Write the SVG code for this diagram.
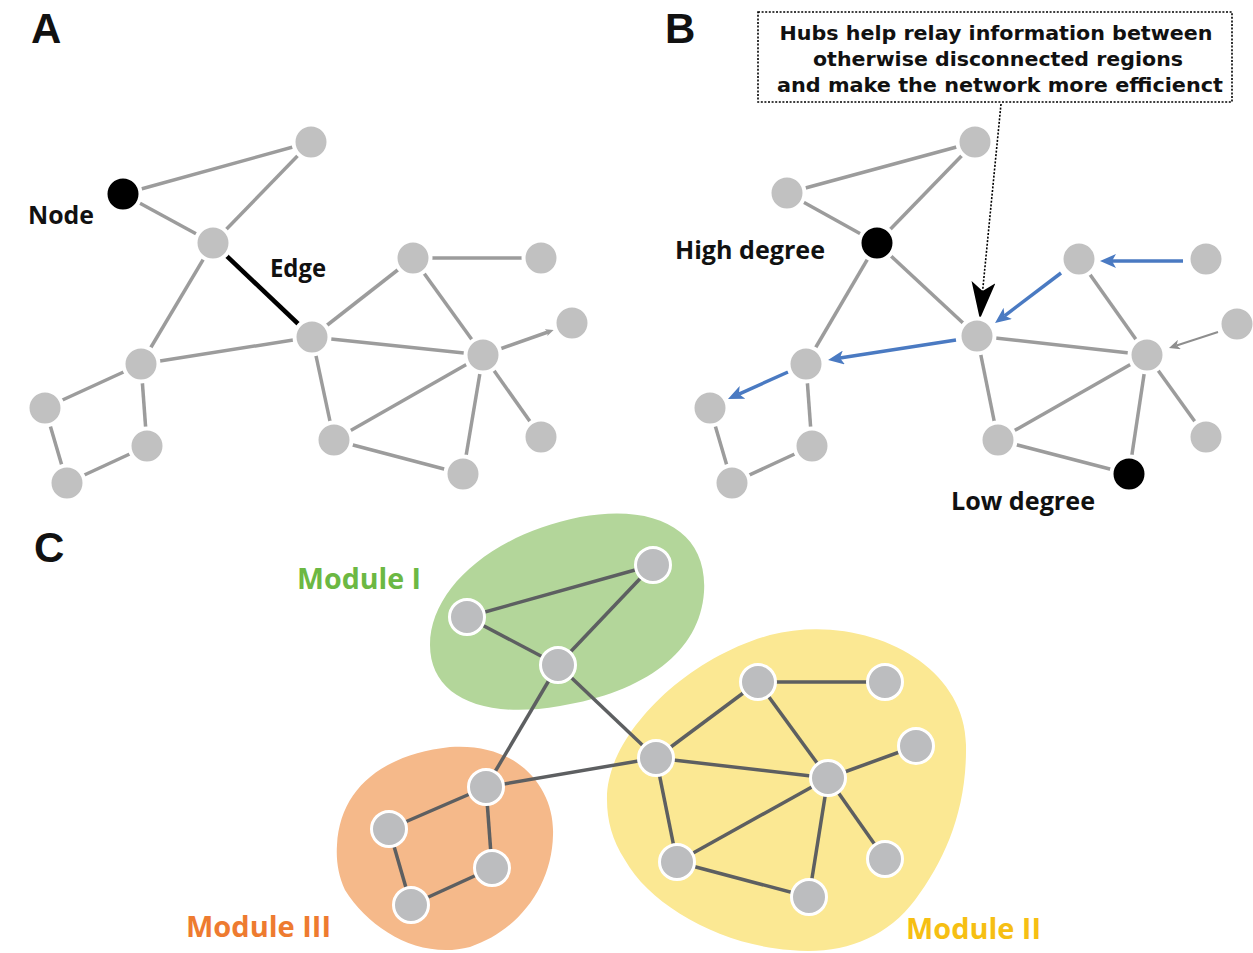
<svg xmlns="http://www.w3.org/2000/svg" width="1253" height="953" viewBox="0 0 1253 953">
<style>
.ab{fill:#c1c1c1;stroke:#fff;stroke-width:4}
.bk{fill:#000;stroke:#fff;stroke-width:4}
.cn{fill:#bcbdbf;stroke:#fff;stroke-width:3}
.e{stroke:#9c9c9c;stroke-width:3.5;fill:none}
.ec{stroke:#5d5f61;stroke-width:3.5;fill:none}
.bl{stroke:#4a7ac2;stroke-width:3.5;fill:none}
.lbl{font-family:"Open Sans","Liberation Sans",sans-serif;font-weight:700;fill:#111}
.pl{font-family:"Liberation Sans","Open Sans",sans-serif;font-weight:700;fill:#111;font-size:42px}
.hub{font-family:"DejaVu Sans","Liberation Sans",sans-serif;font-weight:700;fill:#111;font-size:19px;text-anchor:middle}
</style>
<defs>
<marker id="mb" markerUnits="userSpaceOnUse" markerWidth="16" markerHeight="14" refX="4" refY="7" orient="auto"><path d="M0,0 L16,7 L0,14 L4,7 Z" fill="#4a7ac2"/></marker>
<marker id="mg" markerUnits="userSpaceOnUse" markerWidth="11" markerHeight="10" refX="3" refY="5" orient="auto"><path d="M0,0 L11,5 L0,10 L3,5 Z" fill="#8e8e8e"/></marker>
<marker id="mga" markerUnits="userSpaceOnUse" markerWidth="8" markerHeight="7" refX="2" refY="3.5" orient="auto"><path d="M0,0 L8,3.5 L0,7 L2,3.5 Z" fill="#9c9c9c"/></marker>
<marker id="mk" markerUnits="userSpaceOnUse" markerWidth="37" markerHeight="24" refX="9" refY="12" orient="auto"><path d="M0,0 L37,12 L0,24 L9,12 Z" fill="#000"/></marker>
</defs>

<!-- Panel labels -->
<text class="pl" x="31" y="43">A</text>
<text class="pl" x="665" y="43">B</text>
<text class="pl" x="34" y="562">C</text>

<!-- Panel C blobs -->
<g id="module1-area"><path d="M430,645 C430,590 490,535 580,517 C655,503 708,530 704,592 C700,652 645,692 560,706 C480,720 430,695 430,645 Z" fill="#b3d69a"/></g>
<g id="module2-area"><path d="M607,800 C605,740 680,660 770,635 C860,612 965,660 966,745 C967,810 945,860 915,900 C885,940 840,955 790,950 C720,945 650,905 625,860 C612,840 607,820 607,800 Z" fill="#fbe893"/></g>
<g id="module3-area"><path d="M337,845 C340,790 380,755 450,747 C520,742 555,790 553,835 C552,885 520,930 470,947 C420,960 370,930 345,890 C338,875 336,860 337,845 Z" fill="#f5b98a"/></g>

<!-- Connectors -->
<g id="connectors">
  <!-- Panel A -->
  <line class="e" x1="123" y1="194" x2="311" y2="142"/>
  <line class="e" x1="123" y1="194" x2="213" y2="243"/>
  <line class="e" x1="213" y1="243" x2="311" y2="142"/>
  <line stroke="#000" stroke-width="4.5" x1="213" y1="243" x2="312" y2="337"/>
  <line class="e" x1="213" y1="243" x2="141" y2="364"/>
  <line class="e" x1="141" y1="364" x2="312" y2="337"/>
  <line class="e" x1="141" y1="364" x2="45" y2="408"/>
  <line class="e" x1="141" y1="364" x2="147" y2="446"/>
  <line class="e" x1="45" y1="408" x2="67" y2="483"/>
  <line class="e" x1="67" y1="483" x2="147" y2="446"/>
  <line class="e" x1="312" y1="337" x2="413" y2="258"/>
  <line class="e" x1="312" y1="337" x2="483" y2="355"/>
  <line class="e" x1="312" y1="337" x2="334" y2="440"/>
  <line class="e" x1="413" y1="258" x2="541" y2="258"/>
  <line class="e" x1="413" y1="258" x2="483" y2="355"/>
  <line class="e" x1="483" y1="355" x2="548" y2="332" marker-end="url(#mga)"/>
  <line class="e" x1="483" y1="355" x2="334" y2="440"/>
  <line class="e" x1="483" y1="355" x2="463" y2="474"/>
  <line class="e" x1="483" y1="355" x2="541" y2="437"/>
  <line class="e" x1="334" y1="440" x2="463" y2="474"/>
  <!-- Panel B -->
  <line class="e" x1="787" y1="193" x2="975" y2="142"/>
  <line class="e" x1="787" y1="193" x2="877" y2="243"/>
  <line class="e" x1="877" y1="243" x2="975" y2="142"/>
  <line class="e" x1="877" y1="243" x2="977" y2="336"/>
  <line class="e" x1="877" y1="243" x2="806" y2="364"/>
  <line class="e" x1="806" y1="364" x2="812" y2="446"/>
  <line class="e" x1="710" y1="408" x2="732" y2="483"/>
  <line class="e" x1="732" y1="483" x2="812" y2="446"/>
  <line class="e" x1="977" y1="336" x2="1147" y2="355"/>
  <line class="e" x1="977" y1="336" x2="998" y2="440"/>
  <line class="e" x1="1079" y1="259" x2="1147" y2="355"/>
  <line class="e" x1="1147" y1="355" x2="998" y2="440"/>
  <line class="e" x1="1147" y1="355" x2="1129" y2="474"/>
  <line class="e" x1="1147" y1="355" x2="1206" y2="437"/>
  <line class="e" x1="998" y1="440" x2="1129" y2="474"/>
  <line class="bl" x1="1183" y1="261" x2="1112" y2="261" marker-end="url(#mb)"/>
  <line class="bl" x1="1061" y1="273" x2="1004.6" y2="315.8" marker-end="url(#mb)"/>
  <line class="bl" x1="956" y1="340" x2="839.9" y2="358.1" marker-end="url(#mb)"/>
  <line class="bl" x1="788" y1="372" x2="738.9" y2="394.1" marker-end="url(#mb)"/>
  <line stroke="#8e8e8e" stroke-width="2" x1="1218" y1="332" x2="1176.6" y2="345.5" marker-end="url(#mg)"/>
  <line stroke="#000" stroke-width="1.6" stroke-dasharray="2,1.6" x1="1001" y1="104" x2="982.6" y2="291.1" marker-end="url(#mk)"/>
  <!-- Panel C -->
  <line class="ec" x1="467" y1="617" x2="653" y2="565"/>
  <line class="ec" x1="467" y1="617" x2="558" y2="665"/>
  <line class="ec" x1="558" y1="665" x2="653" y2="565"/>
  <line class="ec" x1="558" y1="665" x2="486" y2="787"/>
  <line class="ec" x1="558" y1="665" x2="656" y2="758"/>
  <line class="ec" x1="486" y1="787" x2="656" y2="758"/>
  <line class="ec" x1="486" y1="787" x2="389" y2="829"/>
  <line class="ec" x1="486" y1="787" x2="492" y2="868"/>
  <line class="ec" x1="389" y1="829" x2="411" y2="905"/>
  <line class="ec" x1="411" y1="905" x2="492" y2="868"/>
  <line class="ec" x1="656" y1="758" x2="758" y2="682"/>
  <line class="ec" x1="758" y1="682" x2="885" y2="682"/>
  <line class="ec" x1="758" y1="682" x2="828" y2="778"/>
  <line class="ec" x1="656" y1="758" x2="828" y2="778"/>
  <line class="ec" x1="656" y1="758" x2="677" y2="862"/>
  <line class="ec" x1="828" y1="778" x2="916" y2="746"/>
  <line class="ec" x1="828" y1="778" x2="677" y2="862"/>
  <line class="ec" x1="828" y1="778" x2="809" y2="897"/>
  <line class="ec" x1="828" y1="778" x2="885" y2="859"/>
  <line class="ec" x1="677" y1="862" x2="809" y2="897"/>
</g>

<!-- Panel A nodes -->
<g id="a-n1"><circle class="ab" cx="311" cy="142" r="17.5"/></g>
<g id="a-node"><circle class="bk" cx="123" cy="194" r="17.5"/><text class="lbl" x="28" y="224" font-size="25" textLength="66" lengthAdjust="spacingAndGlyphs">Node</text></g>
<g id="a-n3"><circle class="ab" cx="213" cy="243" r="17.5"/></g>
<g id="a-edge-label"><text class="lbl" x="270" y="277" font-size="25" textLength="56" lengthAdjust="spacingAndGlyphs">Edge</text></g>
<g id="a-n4"><circle class="ab" cx="312" cy="337" r="17.5"/></g>
<g id="a-n5"><circle class="ab" cx="413" cy="258" r="17.5"/></g>
<g id="a-n6"><circle class="ab" cx="541" cy="258" r="17.5"/></g>
<g id="a-n7"><circle class="ab" cx="572" cy="323" r="17.5"/></g>
<g id="a-n8"><circle class="ab" cx="483" cy="355" r="17.5"/></g>
<g id="a-n9"><circle class="ab" cx="141" cy="364" r="17.5"/></g>
<g id="a-n10"><circle class="ab" cx="45" cy="408" r="17.5"/></g>
<g id="a-n11"><circle class="ab" cx="147" cy="446" r="17.5"/></g>
<g id="a-n12"><circle class="ab" cx="67" cy="483" r="17.5"/></g>
<g id="a-n13"><circle class="ab" cx="334" cy="440" r="17.5"/></g>
<g id="a-n14"><circle class="ab" cx="463" cy="474" r="17.5"/></g>
<g id="a-n15"><circle class="ab" cx="541" cy="437" r="17.5"/></g>

<!-- Panel B nodes -->
<g id="b-callout">
  <rect x="758" y="12" width="474" height="90" fill="#fff" stroke="#000" stroke-width="1.6" stroke-dasharray="2,1.6"/>
  <text class="hub" x="996" y="40" textLength="433" lengthAdjust="spacingAndGlyphs">Hubs help relay information between</text>
  <text class="hub" x="998" y="66" textLength="370" lengthAdjust="spacingAndGlyphs">otherwise disconnected regions</text>
  <text class="hub" x="1000" y="92" textLength="446" lengthAdjust="spacingAndGlyphs">and make the network more efficienct</text>
</g>
<g id="b-n1"><circle class="ab" cx="975" cy="142" r="17.5"/></g>
<g id="b-n2"><circle class="ab" cx="787" cy="193" r="17.5"/></g>
<g id="b-high"><circle class="bk" cx="877" cy="243" r="17.5"/><text class="lbl" x="675" y="259" font-size="25" textLength="150" lengthAdjust="spacingAndGlyphs">High degree</text></g>
<g id="b-hub"><circle class="ab" cx="977" cy="336" r="17.5"/></g>
<g id="b-n5"><circle class="ab" cx="1079" cy="259" r="17.5"/></g>
<g id="b-n6"><circle class="ab" cx="1206" cy="259" r="17.5"/></g>
<g id="b-n7"><circle class="ab" cx="1237" cy="324" r="17.5"/></g>
<g id="b-n8"><circle class="ab" cx="1147" cy="355" r="17.5"/></g>
<g id="b-n9"><circle class="ab" cx="806" cy="364" r="17.5"/></g>
<g id="b-n10"><circle class="ab" cx="710" cy="408" r="17.5"/></g>
<g id="b-n11"><circle class="ab" cx="812" cy="446" r="17.5"/></g>
<g id="b-n12"><circle class="ab" cx="732" cy="483" r="17.5"/></g>
<g id="b-n13"><circle class="ab" cx="998" cy="440" r="17.5"/></g>
<g id="b-low"><circle class="bk" cx="1129" cy="474" r="17.5"/><text class="lbl" x="951" y="510" font-size="25" textLength="144" lengthAdjust="spacingAndGlyphs">Low degree</text></g>
<g id="b-n15"><circle class="ab" cx="1206" cy="437" r="17.5"/></g>

<!-- Panel C nodes -->
<g id="c-m1-label"><text class="lbl" x="297" y="589" font-size="29" style="fill:#6cb843" textLength="124" lengthAdjust="spacingAndGlyphs">Module I</text></g>
<g id="c-m2-label"><text class="lbl" x="906" y="939" font-size="29" style="fill:#f6bf13" textLength="135" lengthAdjust="spacingAndGlyphs">Module II</text></g>
<g id="c-m3-label"><text class="lbl" x="186" y="937" font-size="29" style="fill:#ee7b30" textLength="145" lengthAdjust="spacingAndGlyphs">Module III</text></g>
<g id="c-n1"><circle class="cn" cx="653" cy="565" r="17.5"/></g>
<g id="c-n2"><circle class="cn" cx="467" cy="617" r="17.5"/></g>
<g id="c-n3"><circle class="cn" cx="558" cy="665" r="17.5"/></g>
<g id="c-n4"><circle class="cn" cx="656" cy="758" r="17.5"/></g>
<g id="c-n5"><circle class="cn" cx="758" cy="682" r="17.5"/></g>
<g id="c-n6"><circle class="cn" cx="885" cy="682" r="17.5"/></g>
<g id="c-n7"><circle class="cn" cx="916" cy="746" r="17.5"/></g>
<g id="c-n8"><circle class="cn" cx="828" cy="778" r="17.5"/></g>
<g id="c-n9"><circle class="cn" cx="486" cy="787" r="17.5"/></g>
<g id="c-n10"><circle class="cn" cx="389" cy="829" r="17.5"/></g>
<g id="c-n11"><circle class="cn" cx="492" cy="868" r="17.5"/></g>
<g id="c-n12"><circle class="cn" cx="411" cy="905" r="17.5"/></g>
<g id="c-n13"><circle class="cn" cx="677" cy="862" r="17.5"/></g>
<g id="c-n14"><circle class="cn" cx="809" cy="897" r="17.5"/></g>
<g id="c-n15"><circle class="cn" cx="885" cy="859" r="17.5"/></g>
</svg>
